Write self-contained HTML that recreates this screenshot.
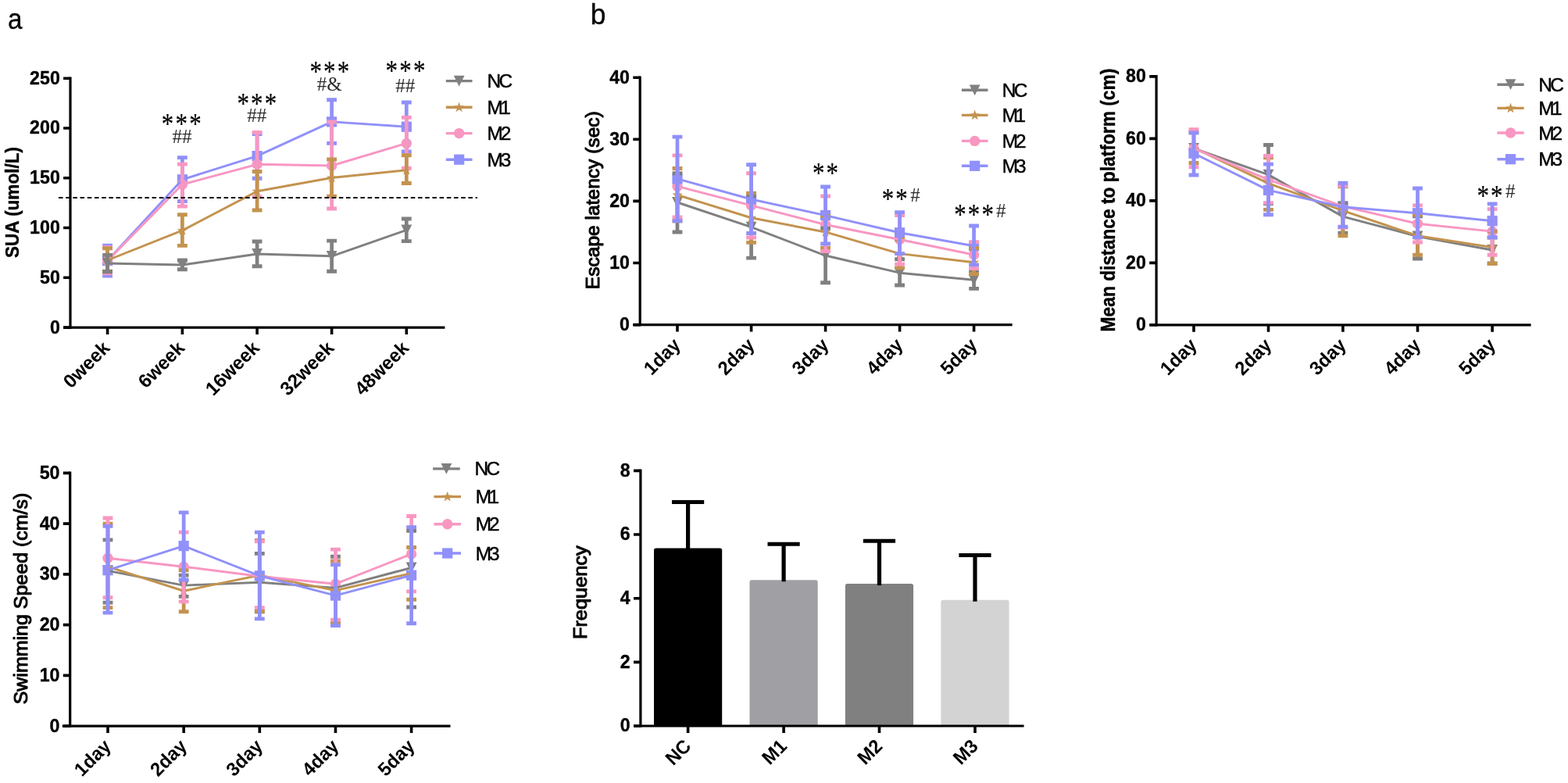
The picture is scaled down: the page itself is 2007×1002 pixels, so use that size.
<!DOCTYPE html>
<html lang="en"><head><meta charset="utf-8"><title>Figure</title>
<style>
html,body{margin:0;padding:0;background:#fff;}
body{width:2007px;height:1002px;overflow:hidden;}
svg{display:block;}
text{white-space:pre;}
.sans{font-family:"Liberation Sans",sans-serif;}
.serif{font-family:"Liberation Serif",serif;}
</style></head><body>
<svg width="2007" height="1002" viewBox="0 0 2007 1002">
<rect width="2007" height="1002" fill="#fff"/>
<g class="sans" font-size="36.2" fill="#000" stroke="#000" stroke-width="0.3">
<text transform="translate(9.9,36.6) scale(0.92,1)">a</text>
<text transform="translate(755.8,31.1) scale(0.98,1)">b</text>
</g>
<g stroke="#000" stroke-width="3.2" fill="none">
<path d="M90.0 98.40V420.70"/>
<path d="M81.3 419.1H569.4"/>
<path d="M81.10 419.10H90.0M81.10 355.32H90.0M81.10 291.54H90.0M81.10 227.76H90.0M81.10 163.98H90.0M81.10 100.20H90.0M137.60 419.1V428.00M233.40 419.1V428.00M329.10 419.1V428.00M424.60 419.1V428.00M520.30 419.1V428.00" stroke-width="3.6"/>
</g>
<g class="sans" font-weight="700" fill="#000" stroke="#000" stroke-linejoin="round">
<text transform="translate(76.80,426.50) scale(0.935,1)" text-anchor="end" font-size="24.8" stroke-width="0.38">0</text>
<text transform="translate(76.80,362.72) scale(0.935,1)" text-anchor="end" font-size="24.8" stroke-width="0.38">50</text>
<text transform="translate(76.80,298.94) scale(0.935,1)" text-anchor="end" font-size="24.8" stroke-width="0.38">100</text>
<text transform="translate(76.80,235.16) scale(0.935,1)" text-anchor="end" font-size="24.8" stroke-width="0.38">150</text>
<text transform="translate(76.80,171.38) scale(0.935,1)" text-anchor="end" font-size="24.8" stroke-width="0.38">200</text>
<text transform="translate(76.80,107.60) scale(0.935,1)" text-anchor="end" font-size="24.8" stroke-width="0.38">250</text>
<text transform="translate(142.00,446.90) rotate(-45) scale(0.987,1)" text-anchor="end" font-size="24.4" stroke-width="0.0">0week</text>
<text transform="translate(237.80,446.90) rotate(-45) scale(0.987,1)" text-anchor="end" font-size="24.4" stroke-width="0.0">6week</text>
<text transform="translate(333.50,446.90) rotate(-45) scale(0.987,1)" text-anchor="end" font-size="24.4" stroke-width="0.0">16week</text>
<text transform="translate(429.00,446.90) rotate(-45) scale(0.987,1)" text-anchor="end" font-size="24.4" stroke-width="0.0">32week</text>
<text transform="translate(524.70,446.90) rotate(-45) scale(0.987,1)" text-anchor="end" font-size="24.4" stroke-width="0.0">48week</text>
<text transform="translate(24.00,259.00) rotate(-90) scale(0.925,1)" text-anchor="middle" font-size="24.4" stroke-width="0.45">SUA (umol/L)</text>
</g>
<g>
<rect x="131.00" y="327.00" width="13.2" height="13.2" fill="#9090FA"/>
<rect x="226.80" y="223.20" width="13.2" height="13.2" fill="#9090FA"/>
<rect x="322.50" y="193.00" width="13.2" height="13.2" fill="#9090FA"/>
<rect x="418.00" y="149.30" width="13.2" height="13.2" fill="#9090FA"/>
<rect x="513.70" y="155.60" width="13.2" height="13.2" fill="#9090FA"/>
<circle cx="137.60" cy="333.60" r="6.7" fill="#F897C2"/>
<circle cx="233.40" cy="236.00" r="6.7" fill="#F897C2"/>
<circle cx="329.10" cy="210.30" r="6.7" fill="#F897C2"/>
<circle cx="424.60" cy="212.00" r="6.7" fill="#F897C2"/>
<circle cx="520.30" cy="183.40" r="6.7" fill="#F897C2"/>
<polygon points="137.60,326.20 139.25,330.93 144.26,331.04 140.26,334.07 141.71,338.86 137.60,336.00 133.49,338.86 134.94,334.07 130.94,331.04 135.95,330.93" fill="#C3934F"/>
<polygon points="233.40,288.10 235.05,292.83 240.06,292.94 236.06,295.97 237.51,300.76 233.40,297.90 229.29,300.76 230.74,295.97 226.74,292.94 231.75,292.83" fill="#C3934F"/>
<polygon points="329.10,238.00 330.75,242.73 335.76,242.84 331.76,245.87 333.21,250.66 329.10,247.80 324.99,250.66 326.44,245.87 322.44,242.84 327.45,242.73" fill="#C3934F"/>
<polygon points="424.60,220.70 426.25,225.43 431.26,225.54 427.26,228.57 428.71,233.36 424.60,230.50 420.49,233.36 421.94,228.57 417.94,225.54 422.95,225.43" fill="#C3934F"/>
<polygon points="520.30,211.00 521.95,215.73 526.96,215.84 522.96,218.87 524.41,223.66 520.30,220.80 516.19,223.66 517.64,218.87 513.64,215.84 518.65,215.73" fill="#C3934F"/>
<path d="M130.70 330.10H144.50L137.60 343.90Z" fill="#808080"/>
<path d="M226.50 332.10H240.30L233.40 345.90Z" fill="#808080"/>
<path d="M322.20 318.10H336.00L329.10 331.90Z" fill="#808080"/>
<path d="M417.70 320.90H431.50L424.60 334.70Z" fill="#808080"/>
<path d="M513.40 287.50H527.20L520.30 301.30Z" fill="#808080"/>
<polyline points="137.60,333.60 233.40,229.80 329.10,199.60 424.60,155.90 520.30,162.20" stroke="#9090FA" stroke-width="2.95" fill="none" stroke-linejoin="round"/>
<path d="M137.60 314.20V353.00M233.40 201.60V257.60M329.10 171.60V228.30M424.60 127.70V183.40M520.30 131.00V194.00" stroke="#9090FA" stroke-width="4.7" fill="none"/>
<path d="M131.20 314.20h12.8M131.20 353.00h12.8M227.00 201.60h12.8M227.00 257.60h12.8M322.70 171.60h12.8M322.70 228.30h12.8M418.20 127.70h12.8M418.20 183.40h12.8M513.90 131.00h12.8M513.90 194.00h12.8" stroke="#9090FA" stroke-width="4.9" fill="none"/>
<polyline points="137.60,333.60 233.40,236.00 329.10,210.30 424.60,212.00 520.30,183.40" stroke="#F897C2" stroke-width="2.95" fill="none" stroke-linejoin="round"/>
<path d="M137.60 316.40V349.80M233.40 210.10V264.10M329.10 169.50V252.00M424.60 156.00V267.00M520.30 150.40V215.30" stroke="#F897C2" stroke-width="4.7" fill="none"/>
<path d="M131.20 316.40h12.8M131.20 349.80h12.8M227.00 210.10h12.8M227.00 264.10h12.8M322.70 169.50h12.8M322.70 252.00h12.8M418.20 156.00h12.8M418.20 267.00h12.8M513.90 150.40h12.8M513.90 215.30h12.8" stroke="#F897C2" stroke-width="4.9" fill="none"/>
<polyline points="137.60,333.00 233.40,294.90 329.10,244.80 424.60,227.50 520.30,217.80" stroke="#C3934F" stroke-width="2.95" fill="none" stroke-linejoin="round"/>
<path d="M137.60 317.70V347.20M233.40 274.70V314.40M329.10 219.50V269.00M424.60 204.00V251.20M520.30 198.80V234.50" stroke="#C3934F" stroke-width="4.7" fill="none"/>
<path d="M131.20 317.70h12.8M131.20 347.20h12.8M227.00 274.70h12.8M227.00 314.40h12.8M322.70 219.50h12.8M322.70 269.00h12.8M418.20 204.00h12.8M418.20 251.20h12.8M513.90 198.80h12.8M513.90 234.50h12.8" stroke="#C3934F" stroke-width="4.9" fill="none"/>
<polyline points="137.60,337.00 233.40,339.00 329.10,325.00 424.60,327.80 520.30,294.40" stroke="#808080" stroke-width="2.95" fill="none" stroke-linejoin="round"/>
<path d="M137.60 326.40V347.70M233.40 333.00V344.80M329.10 309.00V340.80M424.60 308.10V347.30M520.30 280.00V308.60" stroke="#808080" stroke-width="4.7" fill="none"/>
<path d="M131.20 326.40h12.8M131.20 347.70h12.8M227.00 333.00h12.8M227.00 344.80h12.8M322.70 309.00h12.8M322.70 340.80h12.8M418.20 308.10h12.8M418.20 347.30h12.8M513.90 280.00h12.8M513.90 308.60h12.8" stroke="#808080" stroke-width="4.9" fill="none"/>
</g>
<path d="M75 253H611" stroke="#000" stroke-width="2.0" stroke-dasharray="5.5 3.7" fill="none"/>
<path d="M570.80 103.6H604.50" stroke="#808080" stroke-width="3.4"/>
<path d="M580.75 96.70H594.55L587.65 110.50Z" fill="#808080"/>
<text transform="translate(623.60,111.90) scale(1.0,1)" class="sans" font-size="24.4" letter-spacing="-2.6" fill="#000" stroke="#000" stroke-width="0.45">NC</text>
<path d="M570.80 137.3H604.50" stroke="#C3934F" stroke-width="3.4"/>
<polygon points="587.65,130.50 589.30,135.23 594.31,135.34 590.31,138.37 591.76,143.16 587.65,140.30 583.54,143.16 584.99,138.37 580.99,135.34 586.00,135.23" fill="#C3934F"/>
<text transform="translate(623.60,145.70) scale(1.0,1)" class="sans" font-size="24.4" letter-spacing="-3.6" fill="#000" stroke="#000" stroke-width="0.45">M1</text>
<path d="M570.80 170.6H604.50" stroke="#F897C2" stroke-width="3.4"/>
<circle cx="587.65" cy="170.60" r="6.7" fill="#F897C2"/>
<text transform="translate(623.60,179.40) scale(1.0,1)" class="sans" font-size="24.4" letter-spacing="-3.2" fill="#000" stroke="#000" stroke-width="0.45">M2</text>
<path d="M570.80 204.2H604.50" stroke="#9090FA" stroke-width="3.4"/>
<rect x="581.05" y="197.60" width="13.2" height="13.2" fill="#9090FA"/>
<text transform="translate(623.60,212.70) scale(1.0,1)" class="sans" font-size="24.4" letter-spacing="-3.2" fill="#000" stroke="#000" stroke-width="0.45">M3</text>
<text transform="translate(206.83,170.90) scale(1,1.21)" class="serif" font-size="31.0" letter-spacing="2.2" fill="#000" stroke="#000" stroke-width="0.15">***</text>
<text x="233" y="183.4" text-anchor="middle" class="serif" font-size="25" letter-spacing="0" fill="#2a2a2a">##</text>
<text transform="translate(303.43,145.20) scale(1,1.21)" class="serif" font-size="31.0" letter-spacing="2.2" fill="#000" stroke="#000" stroke-width="0.15">***</text>
<text x="328.8" y="156.4" text-anchor="middle" class="serif" font-size="25" letter-spacing="0" fill="#2a2a2a">##</text>
<text transform="translate(396.43,104.20) scale(1,1.21)" class="serif" font-size="31.0" letter-spacing="2.2" fill="#000" stroke="#000" stroke-width="0.15">***</text>
<text x="421.7" y="116.0" text-anchor="middle" class="serif" font-size="25" letter-spacing="0" fill="#2a2a2a">#&amp;</text>
<text transform="translate(493.53,102.60) scale(1,1.21)" class="serif" font-size="31.0" letter-spacing="2.2" fill="#000" stroke="#000" stroke-width="0.15">***</text>
<text x="518.8" y="117.6" text-anchor="middle" class="serif" font-size="25" letter-spacing="0" fill="#2a2a2a">##</text>
<g stroke="#000" stroke-width="3.2" fill="none">
<path d="M819.2 97.40V417.20"/>
<path d="M810.6 415.6H1295.7"/>
<path d="M810.30 415.60H819.2M810.30 336.50H819.2M810.30 257.40H819.2M810.30 178.30H819.2M810.30 99.20H819.2M867.00 415.6V424.50M961.60 415.6V424.50M1056.60 415.6V424.50M1151.60 415.6V424.50M1246.60 415.6V424.50" stroke-width="3.6"/>
</g>
<g class="sans" font-weight="700" fill="#000" stroke="#000" stroke-linejoin="round">
<text transform="translate(806.00,423.00) scale(0.935,1)" text-anchor="end" font-size="24.8" stroke-width="0.38">0</text>
<text transform="translate(806.00,343.90) scale(0.935,1)" text-anchor="end" font-size="24.8" stroke-width="0.38">10</text>
<text transform="translate(806.00,264.80) scale(0.935,1)" text-anchor="end" font-size="24.8" stroke-width="0.38">20</text>
<text transform="translate(806.00,185.70) scale(0.935,1)" text-anchor="end" font-size="24.8" stroke-width="0.38">30</text>
<text transform="translate(806.00,106.60) scale(0.935,1)" text-anchor="end" font-size="24.8" stroke-width="0.38">40</text>
<text transform="translate(872.40,442.90) rotate(-45) scale(0.975,1)" text-anchor="end" font-size="24.4" stroke-width="0.0">1day</text>
<text transform="translate(967.00,442.90) rotate(-45) scale(0.975,1)" text-anchor="end" font-size="24.4" stroke-width="0.0">2day</text>
<text transform="translate(1062.00,442.90) rotate(-45) scale(0.975,1)" text-anchor="end" font-size="24.4" stroke-width="0.0">3day</text>
<text transform="translate(1157.00,442.90) rotate(-45) scale(0.975,1)" text-anchor="end" font-size="24.4" stroke-width="0.0">4day</text>
<text transform="translate(1252.00,442.90) rotate(-45) scale(0.975,1)" text-anchor="end" font-size="24.4" stroke-width="0.0">5day</text>
<text transform="translate(766.60,256.20) rotate(-90) scale(1.007,1)" text-anchor="middle" font-size="24.4" stroke-width="1.05" font-weight="400">Escape latency (sec)</text>
</g>
<g>
<path d="M860.10 252.08H873.90L867.00 265.88Z" fill="#808080"/>
<path d="M954.70 283.72H968.50L961.60 297.52Z" fill="#808080"/>
<path d="M1049.70 320.11H1063.50L1056.60 333.91Z" fill="#808080"/>
<path d="M1144.70 342.26H1158.50L1151.60 356.06Z" fill="#808080"/>
<path d="M1239.70 351.35H1253.50L1246.60 365.15Z" fill="#808080"/>
<polygon points="867.00,242.69 868.65,247.42 873.66,247.53 869.66,250.56 871.11,255.35 867.00,252.49 862.89,255.35 864.34,250.56 860.34,247.53 865.35,247.42" fill="#C3934F"/>
<polygon points="961.60,271.96 963.25,276.69 968.26,276.79 964.26,279.82 965.71,284.62 961.60,281.76 957.49,284.62 958.94,279.82 954.94,276.79 959.95,276.69" fill="#C3934F"/>
<polygon points="1056.60,290.15 1058.25,294.88 1063.26,294.99 1059.26,298.02 1060.71,302.81 1056.60,299.95 1052.49,302.81 1053.94,298.02 1049.94,294.99 1054.95,294.88" fill="#C3934F"/>
<polygon points="1151.60,317.83 1153.25,322.57 1158.26,322.67 1154.26,325.70 1155.71,330.50 1151.60,327.63 1147.49,330.50 1148.94,325.70 1144.94,322.67 1149.95,322.57" fill="#C3934F"/>
<polygon points="1246.60,328.91 1248.25,333.64 1253.26,333.75 1249.26,336.77 1250.71,341.57 1246.60,338.71 1242.49,341.57 1243.94,336.77 1239.94,333.75 1244.95,333.64" fill="#C3934F"/>
<circle cx="867.00" cy="238.42" r="6.7" fill="#F897C2"/>
<circle cx="961.60" cy="262.94" r="6.7" fill="#F897C2"/>
<circle cx="1056.60" cy="287.46" r="6.7" fill="#F897C2"/>
<circle cx="1151.60" cy="306.44" r="6.7" fill="#F897C2"/>
<circle cx="1246.60" cy="325.98" r="6.7" fill="#F897C2"/>
<rect x="860.40" y="222.32" width="13.2" height="13.2" fill="#9090FA"/>
<rect x="955.00" y="248.43" width="13.2" height="13.2" fill="#9090FA"/>
<rect x="1050.00" y="268.99" width="13.2" height="13.2" fill="#9090FA"/>
<rect x="1145.00" y="291.14" width="13.2" height="13.2" fill="#9090FA"/>
<rect x="1240.00" y="308.15" width="13.2" height="13.2" fill="#9090FA"/>
<polyline points="867.00,258.98 961.60,290.62 1056.60,327.01 1151.60,349.16 1246.60,358.25" stroke="#808080" stroke-width="2.95" fill="none" stroke-linejoin="round"/>
<path d="M867.00 221.81V296.95M961.60 251.07V330.17M1056.60 292.20V361.81M1151.60 331.75V364.98M1246.60 347.57V369.33" stroke="#808080" stroke-width="4.7" fill="none"/>
<path d="M860.60 221.81h12.8M860.60 296.95h12.8M955.20 251.07h12.8M955.20 330.17h12.8M1050.20 292.20h12.8M1050.20 361.81h12.8M1145.20 331.75h12.8M1145.20 364.98h12.8M1240.20 347.57h12.8M1240.20 369.33h12.8" stroke="#808080" stroke-width="4.9" fill="none"/>
<polyline points="867.00,249.49 961.60,278.76 1056.60,296.95 1151.60,324.63 1246.60,335.71" stroke="#C3934F" stroke-width="2.95" fill="none" stroke-linejoin="round"/>
<path d="M867.00 215.48V282.71M961.60 247.12V310.40M1056.60 276.38V317.52M1151.60 306.44V342.83M1246.60 317.52V350.74" stroke="#C3934F" stroke-width="4.7" fill="none"/>
<path d="M860.60 215.48h12.8M860.60 282.71h12.8M955.20 247.12h12.8M955.20 310.40h12.8M1050.20 276.38h12.8M1050.20 317.52h12.8M1145.20 306.44h12.8M1145.20 342.83h12.8M1240.20 317.52h12.8M1240.20 350.74h12.8" stroke="#C3934F" stroke-width="4.9" fill="none"/>
<polyline points="867.00,238.42 961.60,262.94 1056.60,287.46 1151.60,306.44 1246.60,325.98" stroke="#F897C2" stroke-width="2.95" fill="none" stroke-linejoin="round"/>
<path d="M867.00 198.87V277.97M961.60 221.81V304.07M1056.60 251.07V321.47M1151.60 275.59V338.08M1246.60 309.61V343.62" stroke="#F897C2" stroke-width="4.7" fill="none"/>
<path d="M860.60 198.87h12.8M860.60 277.97h12.8M955.20 221.81h12.8M955.20 304.07h12.8M1050.20 251.07h12.8M1050.20 321.47h12.8M1145.20 275.59h12.8M1145.20 338.08h12.8M1240.20 309.61h12.8M1240.20 343.62h12.8" stroke="#F897C2" stroke-width="4.9" fill="none"/>
<polyline points="867.00,228.92 961.60,255.03 1056.60,275.59 1151.60,297.74 1246.60,314.75" stroke="#9090FA" stroke-width="2.95" fill="none" stroke-linejoin="round"/>
<path d="M867.00 175.14V282.71M961.60 210.73V298.53M1056.60 238.97V311.98M1151.60 271.64V324.63M1246.60 289.04V338.87" stroke="#9090FA" stroke-width="4.7" fill="none"/>
<path d="M860.60 175.14h12.8M860.60 282.71h12.8M955.20 210.73h12.8M955.20 298.53h12.8M1050.20 238.97h12.8M1050.20 311.98h12.8M1145.20 271.64h12.8M1145.20 324.63h12.8M1240.20 289.04h12.8M1240.20 338.87h12.8" stroke="#9090FA" stroke-width="4.9" fill="none"/>
</g>
<path d="M1230.90 115.3H1264.50" stroke="#808080" stroke-width="3.4"/>
<path d="M1240.80 108.40H1254.60L1247.70 122.20Z" fill="#808080"/>
<text transform="translate(1282.80,123.80) scale(1.0,1)" class="sans" font-size="24.4" letter-spacing="-2.6" fill="#000" stroke="#000" stroke-width="0.45">NC</text>
<path d="M1230.90 147.4H1264.50" stroke="#C3934F" stroke-width="3.4"/>
<polygon points="1247.70,140.60 1249.35,145.33 1254.36,145.44 1250.36,148.47 1251.81,153.26 1247.70,150.40 1243.59,153.26 1245.04,148.47 1241.04,145.44 1246.05,145.33" fill="#C3934F"/>
<text transform="translate(1282.80,155.90) scale(1.0,1)" class="sans" font-size="24.4" letter-spacing="-3.6" fill="#000" stroke="#000" stroke-width="0.45">M1</text>
<path d="M1230.90 180.4H1264.50" stroke="#F897C2" stroke-width="3.4"/>
<circle cx="1247.70" cy="180.40" r="6.7" fill="#F897C2"/>
<text transform="translate(1282.80,188.90) scale(1.0,1)" class="sans" font-size="24.4" letter-spacing="-3.2" fill="#000" stroke="#000" stroke-width="0.45">M2</text>
<path d="M1230.90 212.3H1264.50" stroke="#9090FA" stroke-width="3.4"/>
<rect x="1241.10" y="205.70" width="13.2" height="13.2" fill="#9090FA"/>
<text transform="translate(1282.80,220.80) scale(1.0,1)" class="sans" font-size="24.4" letter-spacing="-3.2" fill="#000" stroke="#000" stroke-width="0.45">M3</text>
<text transform="translate(1039.88,234.20) scale(1,1.21)" class="serif" font-size="31.0" letter-spacing="2.2" fill="#000" stroke="#000" stroke-width="0.15">**</text>
<text transform="translate(1128.68,267.20) scale(1,1.21)" class="serif" font-size="31.0" letter-spacing="2.2" fill="#000" stroke="#000" stroke-width="0.15">**</text>
<text x="1165.3" y="257.5" text-anchor="start" class="serif" font-size="25" letter-spacing="0" fill="#2a2a2a">#</text>
<text transform="translate(1221.13,287.20) scale(1,1.21)" class="serif" font-size="31.0" letter-spacing="2.2" fill="#000" stroke="#000" stroke-width="0.15">***</text>
<text x="1275" y="278" text-anchor="start" class="serif" font-size="25" letter-spacing="0" fill="#2a2a2a">#</text>
<g stroke="#000" stroke-width="3.2" fill="none">
<path d="M1480.1 96.12V417.40"/>
<path d="M1471.6 415.8H1959.6"/>
<path d="M1471.20 415.80H1480.1M1471.20 336.33H1480.1M1471.20 256.86H1480.1M1471.20 177.39H1480.1M1471.20 97.92H1480.1M1528.00 415.8V424.70M1623.50 415.8V424.70M1718.90 415.8V424.70M1814.50 415.8V424.70M1910.10 415.8V424.70" stroke-width="3.6"/>
</g>
<g class="sans" font-weight="700" fill="#000" stroke="#000" stroke-linejoin="round">
<text transform="translate(1466.90,423.20) scale(0.935,1)" text-anchor="end" font-size="24.8" stroke-width="0.38">0</text>
<text transform="translate(1466.90,343.73) scale(0.935,1)" text-anchor="end" font-size="24.8" stroke-width="0.38">20</text>
<text transform="translate(1466.90,264.26) scale(0.935,1)" text-anchor="end" font-size="24.8" stroke-width="0.38">40</text>
<text transform="translate(1466.90,184.79) scale(0.935,1)" text-anchor="end" font-size="24.8" stroke-width="0.38">60</text>
<text transform="translate(1466.90,105.32) scale(0.935,1)" text-anchor="end" font-size="24.8" stroke-width="0.38">80</text>
<text transform="translate(1533.40,443.10) rotate(-45) scale(0.975,1)" text-anchor="end" font-size="24.4" stroke-width="0.0">1day</text>
<text transform="translate(1628.90,443.10) rotate(-45) scale(0.975,1)" text-anchor="end" font-size="24.4" stroke-width="0.0">2day</text>
<text transform="translate(1724.30,443.10) rotate(-45) scale(0.975,1)" text-anchor="end" font-size="24.4" stroke-width="0.0">3day</text>
<text transform="translate(1819.90,443.10) rotate(-45) scale(0.975,1)" text-anchor="end" font-size="24.4" stroke-width="0.0">4day</text>
<text transform="translate(1915.50,443.10) rotate(-45) scale(0.975,1)" text-anchor="end" font-size="24.4" stroke-width="0.0">5day</text>
<text transform="translate(1426.80,256.00) rotate(-90) scale(0.887,1)" text-anchor="middle" font-size="25.7" stroke-width="0.45">Mean distance to platform (cm)</text>
</g>
<g>
<path d="M1521.10 182.99H1534.90L1528.00 196.79Z" fill="#808080"/>
<path d="M1616.60 216.69H1630.40L1623.50 230.49Z" fill="#808080"/>
<path d="M1712.00 270.22H1725.80L1718.90 284.02Z" fill="#808080"/>
<path d="M1807.60 295.59H1821.40L1814.50 309.39Z" fill="#808080"/>
<path d="M1903.20 313.04H1917.00L1910.10 326.84Z" fill="#808080"/>
<polygon points="1528.00,182.30 1529.65,187.03 1534.66,187.13 1530.66,190.16 1532.11,194.96 1528.00,192.10 1523.89,194.96 1525.34,190.16 1521.34,187.13 1526.35,187.03" fill="#C3934F"/>
<polygon points="1623.50,227.89 1625.15,232.63 1630.16,232.73 1626.16,235.76 1627.61,240.56 1623.50,237.69 1619.39,240.56 1620.84,235.76 1616.84,232.73 1621.85,232.63" fill="#C3934F"/>
<polygon points="1718.90,262.78 1720.55,267.52 1725.56,267.62 1721.56,270.65 1723.01,275.45 1718.90,272.58 1714.79,275.45 1716.24,270.65 1712.24,267.62 1717.25,267.52" fill="#C3934F"/>
<polygon points="1814.50,294.90 1816.15,299.64 1821.16,299.74 1817.16,302.77 1818.61,307.56 1814.50,304.70 1810.39,307.56 1811.84,302.77 1807.84,299.74 1812.85,299.64" fill="#C3934F"/>
<polygon points="1910.10,309.57 1911.75,314.31 1916.76,314.41 1912.76,317.44 1914.21,322.23 1910.10,319.37 1905.99,322.23 1907.44,317.44 1903.44,314.41 1908.45,314.31" fill="#C3934F"/>
<circle cx="1528.00" cy="189.89" r="6.7" fill="#F897C2"/>
<circle cx="1623.50" cy="229.93" r="6.7" fill="#F897C2"/>
<circle cx="1718.90" cy="264.03" r="6.7" fill="#F897C2"/>
<circle cx="1814.50" cy="286.24" r="6.7" fill="#F897C2"/>
<circle cx="1910.10" cy="296.15" r="6.7" fill="#F897C2"/>
<rect x="1521.40" y="189.63" width="13.2" height="13.2" fill="#9090FA"/>
<rect x="1616.90" y="236.82" width="13.2" height="13.2" fill="#9090FA"/>
<rect x="1712.30" y="258.23" width="13.2" height="13.2" fill="#9090FA"/>
<rect x="1807.90" y="266.16" width="13.2" height="13.2" fill="#9090FA"/>
<rect x="1903.50" y="276.07" width="13.2" height="13.2" fill="#9090FA"/>
<polyline points="1528.00,189.89 1623.50,223.59 1718.90,277.12 1814.50,302.49 1910.10,319.94" stroke="#808080" stroke-width="2.95" fill="none" stroke-linejoin="round"/>
<path d="M1623.50 185.53V260.47M1718.90 259.67V298.13M1814.50 276.33V331.04M1910.10 304.08V336.99" stroke="#808080" stroke-width="4.7" fill="none"/>
<path d="M1617.10 185.53h12.8M1617.10 260.47h12.8M1712.50 259.67h12.8M1712.50 298.13h12.8M1808.10 276.33h12.8M1808.10 331.04h12.8M1903.70 304.08h12.8M1903.70 336.99h12.8" stroke="#808080" stroke-width="4.9" fill="none"/>
<polyline points="1528.00,189.10 1623.50,234.69 1718.90,269.58 1814.50,301.70 1910.10,316.37" stroke="#C3934F" stroke-width="2.95" fill="none" stroke-linejoin="round"/>
<path d="M1528.00 169.27V208.52M1623.50 201.78V268.40M1718.90 238.86V301.90M1814.50 275.14V326.28M1910.10 296.15V337.39" stroke="#C3934F" stroke-width="4.7" fill="none"/>
<path d="M1521.60 169.27h12.8M1521.60 208.52h12.8M1617.10 201.78h12.8M1617.10 268.40h12.8M1712.50 238.86h12.8M1712.50 301.90h12.8M1808.10 275.14h12.8M1808.10 326.28h12.8M1903.70 296.15h12.8M1903.70 337.39h12.8" stroke="#C3934F" stroke-width="4.9" fill="none"/>
<polyline points="1528.00,189.89 1623.50,229.93 1718.90,264.03 1814.50,286.24 1910.10,296.15" stroke="#F897C2" stroke-width="2.95" fill="none" stroke-linejoin="round"/>
<path d="M1528.00 165.70V213.68M1623.50 199.40V259.67M1718.90 237.47V291.00M1814.50 262.84V310.03M1910.10 267.60V326.28" stroke="#F897C2" stroke-width="4.7" fill="none"/>
<path d="M1521.60 165.70h12.8M1521.60 213.68h12.8M1617.10 199.40h12.8M1617.10 259.67h12.8M1712.50 237.47h12.8M1712.50 291.00h12.8M1808.10 262.84h12.8M1808.10 310.03h12.8M1903.70 267.60h12.8M1903.70 326.28h12.8" stroke="#F897C2" stroke-width="4.9" fill="none"/>
<polyline points="1528.00,196.23 1623.50,243.42 1718.90,264.83 1814.50,272.76 1910.10,282.67" stroke="#9090FA" stroke-width="2.95" fill="none" stroke-linejoin="round"/>
<path d="M1528.00 170.06V223.99M1623.50 210.11V274.74M1718.90 234.30V290.20M1814.50 241.04V303.68M1910.10 260.86V303.68" stroke="#9090FA" stroke-width="4.7" fill="none"/>
<path d="M1521.60 170.06h12.8M1521.60 223.99h12.8M1617.10 210.11h12.8M1617.10 274.74h12.8M1712.50 234.30h12.8M1712.50 290.20h12.8M1808.10 241.04h12.8M1808.10 303.68h12.8M1903.70 260.86h12.8M1903.70 303.68h12.8" stroke="#9090FA" stroke-width="4.9" fill="none"/>
</g>
<path d="M1916.40 108.2H1950.60" stroke="#808080" stroke-width="3.4"/>
<path d="M1926.60 101.30H1940.40L1933.50 115.10Z" fill="#808080"/>
<text transform="translate(1969.30,116.70) scale(1.0,1)" class="sans" font-size="24.4" letter-spacing="-2.6" fill="#000" stroke="#000" stroke-width="0.45">NC</text>
<path d="M1916.40 138.4H1950.60" stroke="#C3934F" stroke-width="3.4"/>
<polygon points="1933.50,131.60 1935.15,136.33 1940.16,136.44 1936.16,139.47 1937.61,144.26 1933.50,141.40 1929.39,144.26 1930.84,139.47 1926.84,136.44 1931.85,136.33" fill="#C3934F"/>
<text transform="translate(1969.30,146.90) scale(1.0,1)" class="sans" font-size="24.4" letter-spacing="-3.6" fill="#000" stroke="#000" stroke-width="0.45">M1</text>
<path d="M1916.40 170.0H1950.60" stroke="#F897C2" stroke-width="3.4"/>
<circle cx="1933.50" cy="170.00" r="6.7" fill="#F897C2"/>
<text transform="translate(1969.30,178.50) scale(1.0,1)" class="sans" font-size="24.4" letter-spacing="-3.2" fill="#000" stroke="#000" stroke-width="0.45">M2</text>
<path d="M1916.40 203.7H1950.60" stroke="#9090FA" stroke-width="3.4"/>
<rect x="1926.90" y="197.10" width="13.2" height="13.2" fill="#9090FA"/>
<text transform="translate(1969.30,212.20) scale(1.0,1)" class="sans" font-size="24.4" letter-spacing="-3.2" fill="#000" stroke="#000" stroke-width="0.45">M3</text>
<text transform="translate(1890.38,262.80) scale(1,1.21)" class="serif" font-size="31.0" letter-spacing="2.2" fill="#000" stroke="#000" stroke-width="0.15">**</text>
<text x="1927" y="253" text-anchor="start" class="serif" font-size="25" letter-spacing="0" fill="#2a2a2a">#</text>
<g stroke="#000" stroke-width="3.2" fill="none">
<path d="M89.7 603.60V930.70"/>
<path d="M79.8 929.1H576.5"/>
<path d="M80.80 929.10H89.7M80.80 864.36H89.7M80.80 799.62H89.7M80.80 734.88H89.7M80.80 670.14H89.7M80.80 605.40H89.7M138.00 929.1V938.00M235.15 929.1V938.00M332.30 929.1V938.00M429.45 929.1V938.00M526.60 929.1V938.00" stroke-width="3.6"/>
</g>
<g class="sans" font-weight="700" fill="#000" stroke="#000" stroke-linejoin="round">
<text transform="translate(76.50,936.50) scale(0.935,1)" text-anchor="end" font-size="24.8" stroke-width="0.38">0</text>
<text transform="translate(76.50,871.76) scale(0.935,1)" text-anchor="end" font-size="24.8" stroke-width="0.38">10</text>
<text transform="translate(76.50,807.02) scale(0.935,1)" text-anchor="end" font-size="24.8" stroke-width="0.38">20</text>
<text transform="translate(76.50,742.28) scale(0.935,1)" text-anchor="end" font-size="24.8" stroke-width="0.38">30</text>
<text transform="translate(76.50,677.54) scale(0.935,1)" text-anchor="end" font-size="24.8" stroke-width="0.38">40</text>
<text transform="translate(76.50,612.80) scale(0.935,1)" text-anchor="end" font-size="24.8" stroke-width="0.38">50</text>
<text transform="translate(143.40,956.40) rotate(-45) scale(0.975,1)" text-anchor="end" font-size="24.4" stroke-width="0.0">1day</text>
<text transform="translate(240.55,956.40) rotate(-45) scale(0.975,1)" text-anchor="end" font-size="24.4" stroke-width="0.0">2day</text>
<text transform="translate(337.70,956.40) rotate(-45) scale(0.975,1)" text-anchor="end" font-size="24.4" stroke-width="0.0">3day</text>
<text transform="translate(434.85,956.40) rotate(-45) scale(0.975,1)" text-anchor="end" font-size="24.4" stroke-width="0.0">4day</text>
<text transform="translate(532.00,956.40) rotate(-45) scale(0.975,1)" text-anchor="end" font-size="24.4" stroke-width="0.0">5day</text>
<text transform="translate(35.20,766.00) rotate(-90) scale(1.024,1)" text-anchor="middle" font-size="24.4" stroke-width="1.05" font-weight="400">Swimming Speed (cm/s)</text>
</g>
<g>
<path d="M131.10 723.45H144.90L138.00 737.25Z" fill="#808080"/>
<path d="M228.25 742.22H242.05L235.15 756.02Z" fill="#808080"/>
<path d="M325.40 738.34H339.20L332.30 752.14Z" fill="#808080"/>
<path d="M422.55 745.46H436.35L429.45 759.26Z" fill="#808080"/>
<path d="M519.70 719.56H533.50L526.60 733.36Z" fill="#808080"/>
<polygon points="138.00,718.37 139.65,723.10 144.66,723.21 140.66,726.23 142.11,731.03 138.00,728.17 133.89,731.03 135.34,726.23 131.34,723.21 136.35,723.10" fill="#C3934F"/>
<polygon points="235.15,749.44 236.80,754.18 241.81,754.28 237.81,757.31 239.26,762.11 235.15,759.24 231.04,762.11 232.49,757.31 228.49,754.28 233.50,754.18" fill="#C3934F"/>
<polygon points="332.30,729.37 333.95,734.11 338.96,734.21 334.96,737.24 336.41,742.04 332.30,739.17 328.19,742.04 329.64,737.24 325.64,734.21 330.65,734.11" fill="#C3934F"/>
<polygon points="429.45,748.80 431.10,753.53 436.11,753.63 432.11,756.66 433.56,761.46 429.45,758.60 425.34,761.46 426.79,756.66 422.79,753.63 427.80,753.53" fill="#C3934F"/>
<polygon points="526.60,726.79 528.25,731.52 533.26,731.62 529.26,734.65 530.71,739.45 526.60,736.59 522.49,739.45 523.94,734.65 519.94,731.62 524.95,731.52" fill="#C3934F"/>
<circle cx="138.00" cy="714.16" r="6.7" fill="#F897C2"/>
<circle cx="235.15" cy="725.17" r="6.7" fill="#F897C2"/>
<circle cx="332.30" cy="737.47" r="6.7" fill="#F897C2"/>
<circle cx="429.45" cy="747.18" r="6.7" fill="#F897C2"/>
<circle cx="526.60" cy="708.98" r="6.7" fill="#F897C2"/>
<rect x="131.40" y="723.10" width="13.2" height="13.2" fill="#9090FA"/>
<rect x="228.55" y="692.03" width="13.2" height="13.2" fill="#9090FA"/>
<rect x="325.70" y="730.22" width="13.2" height="13.2" fill="#9090FA"/>
<rect x="422.85" y="755.47" width="13.2" height="13.2" fill="#9090FA"/>
<rect x="520.00" y="729.57" width="13.2" height="13.2" fill="#9090FA"/>
<polyline points="138.00,730.35 235.15,749.12 332.30,745.24 429.45,752.36 526.60,726.46" stroke="#808080" stroke-width="2.95" fill="none" stroke-linejoin="round"/>
<path d="M138.00 690.86V771.13M235.15 736.17V763.37M332.30 708.34V782.79M429.45 712.22V797.68M526.60 679.20V776.96" stroke="#808080" stroke-width="4.7" fill="none"/>
<path d="M131.60 690.86h12.8M131.60 771.13h12.8M228.75 736.17h12.8M228.75 763.37h12.8M325.90 708.34h12.8M325.90 782.79h12.8M423.05 712.22h12.8M423.05 797.68h12.8M520.20 679.20h12.8M520.20 776.96h12.8" stroke="#808080" stroke-width="4.9" fill="none"/>
<polyline points="138.00,725.17 235.15,756.24 332.30,736.17 429.45,755.60 526.60,733.59" stroke="#C3934F" stroke-width="2.95" fill="none" stroke-linejoin="round"/>
<path d="M138.00 670.14V777.61M235.15 729.70V782.79M332.30 691.50V782.14M429.45 718.05V796.38M526.60 700.57V767.25" stroke="#C3934F" stroke-width="4.7" fill="none"/>
<path d="M131.60 670.14h12.8M131.60 777.61h12.8M228.75 729.70h12.8M228.75 782.79h12.8M325.90 691.50h12.8M325.90 782.14h12.8M423.05 718.05h12.8M423.05 796.38h12.8M520.20 700.57h12.8M520.20 767.25h12.8" stroke="#C3934F" stroke-width="4.9" fill="none"/>
<polyline points="138.00,714.16 235.15,725.17 332.30,737.47 429.45,747.18 526.60,708.98" stroke="#F897C2" stroke-width="2.95" fill="none" stroke-linejoin="round"/>
<path d="M138.00 663.02V764.66M235.15 681.15V769.84M332.30 692.80V777.61M429.45 703.16V793.15M526.60 660.43V756.89" stroke="#F897C2" stroke-width="4.7" fill="none"/>
<path d="M131.60 663.02h12.8M131.60 764.66h12.8M228.75 681.15h12.8M228.75 769.84h12.8M325.90 692.80h12.8M325.90 777.61h12.8M423.05 703.16h12.8M423.05 793.15h12.8M520.20 660.43h12.8M520.20 756.89h12.8" stroke="#F897C2" stroke-width="4.9" fill="none"/>
<polyline points="138.00,729.70 235.15,698.63 332.30,736.82 429.45,762.07 526.60,736.17" stroke="#9090FA" stroke-width="2.95" fill="none" stroke-linejoin="round"/>
<path d="M138.00 673.38V784.08M235.15 655.90V742.00M332.30 681.15V791.85M429.45 722.58V800.59M526.60 674.67V797.68" stroke="#9090FA" stroke-width="4.7" fill="none"/>
<path d="M131.60 673.38h12.8M131.60 784.08h12.8M228.75 655.90h12.8M228.75 742.00h12.8M325.90 681.15h12.8M325.90 791.85h12.8M423.05 722.58h12.8M423.05 800.59h12.8M520.20 674.67h12.8M520.20 797.68h12.8" stroke="#9090FA" stroke-width="4.9" fill="none"/>
</g>
<path d="M554.10 599.9H588.70" stroke="#808080" stroke-width="3.4"/>
<path d="M564.50 593.00H578.30L571.40 606.80Z" fill="#808080"/>
<text transform="translate(607.50,608.40) scale(1.0,1)" class="sans" font-size="24.4" letter-spacing="-2.6" fill="#000" stroke="#000" stroke-width="0.45">NC</text>
<path d="M555.40 635.6H590.00" stroke="#C3934F" stroke-width="3.4"/>
<polygon points="572.70,628.80 574.35,633.53 579.36,633.64 575.36,636.67 576.81,641.46 572.70,638.60 568.59,641.46 570.04,636.67 566.04,633.64 571.05,633.53" fill="#C3934F"/>
<text transform="translate(608.80,644.10) scale(1.0,1)" class="sans" font-size="24.4" letter-spacing="-3.6" fill="#000" stroke="#000" stroke-width="0.45">M1</text>
<path d="M555.40 670.7H590.00" stroke="#F897C2" stroke-width="3.4"/>
<circle cx="572.70" cy="670.70" r="6.7" fill="#F897C2"/>
<text transform="translate(608.80,679.20) scale(1.0,1)" class="sans" font-size="24.4" letter-spacing="-3.2" fill="#000" stroke="#000" stroke-width="0.45">M2</text>
<path d="M555.40 708.0H590.00" stroke="#9090FA" stroke-width="3.4"/>
<rect x="566.10" y="701.40" width="13.2" height="13.2" fill="#9090FA"/>
<text transform="translate(608.80,716.50) scale(1.0,1)" class="sans" font-size="24.4" letter-spacing="-3.2" fill="#000" stroke="#000" stroke-width="0.45">M3</text>
<path d="M837.00 929.0V704.00q0 -2.6 2.6 -2.6H921.60q2.6 0 2.6 2.6V929.0Z" fill="#000000"/>
<path d="M880.60 703.40V642.41" stroke="#000" stroke-width="5.2" fill="none"/>
<path d="M860.00 642.41h41.2" stroke="#000" stroke-width="5.0" fill="none"/>
<path d="M959.50 929.0V744.80q0 -2.6 2.6 -2.6H1044.10q2.6 0 2.6 2.6V929.0Z" fill="#A09FA4"/>
<path d="M1003.10 744.20V696.30" stroke="#000" stroke-width="5.2" fill="none"/>
<path d="M982.50 696.30h41.2" stroke="#000" stroke-width="5.0" fill="none"/>
<path d="M1081.90 929.0V749.70q0 -2.6 2.6 -2.6H1166.50q2.6 0 2.6 2.6V929.0Z" fill="#808080"/>
<path d="M1125.50 749.10V692.22" stroke="#000" stroke-width="5.2" fill="none"/>
<path d="M1104.90 692.22h41.2" stroke="#000" stroke-width="5.0" fill="none"/>
<path d="M1204.40 929.0V770.30q0 -2.6 2.6 -2.6H1289.00q2.6 0 2.6 2.6V929.0Z" fill="#D3D3D3"/>
<path d="M1248.00 769.70V710.59" stroke="#000" stroke-width="5.2" fill="none"/>
<path d="M1227.40 710.59h41.2" stroke="#000" stroke-width="5.0" fill="none"/>
<g stroke="#000" stroke-width="3.2" fill="none">
<path d="M819.9 600.60V930.60"/>
<path d="M811 929.0H1310.6"/>
<path d="M811.00 929.00H819.9M811.00 847.35H819.9M811.00 765.70H819.9M811.00 684.05H819.9M811.00 602.40H819.9M880.60 929.0V937.90M1003.10 929.0V937.90M1125.50 929.0V937.90M1248.00 929.0V937.90" stroke-width="3.6"/>
</g>
<g class="sans" font-weight="700" fill="#000" stroke="#000" stroke-linejoin="round">
<text transform="translate(806.70,936.40) scale(0.935,1)" text-anchor="end" font-size="24.8" stroke-width="0.38">0</text>
<text transform="translate(806.70,854.75) scale(0.935,1)" text-anchor="end" font-size="24.8" stroke-width="0.38">2</text>
<text transform="translate(806.70,773.10) scale(0.935,1)" text-anchor="end" font-size="24.8" stroke-width="0.38">4</text>
<text transform="translate(806.70,691.45) scale(0.935,1)" text-anchor="end" font-size="24.8" stroke-width="0.38">6</text>
<text transform="translate(806.70,609.80) scale(0.935,1)" text-anchor="end" font-size="24.8" stroke-width="0.38">8</text>
<text transform="translate(886.00,956.30) rotate(-45) scale(0.975,1)" text-anchor="end" font-size="24.4" stroke-width="0.0">NC</text>
<text transform="translate(1008.50,956.30) rotate(-45) scale(0.975,1)" text-anchor="end" font-size="24.4" stroke-width="0.0">M1</text>
<text transform="translate(1130.90,956.30) rotate(-45) scale(0.975,1)" text-anchor="end" font-size="24.4" stroke-width="0.0">M2</text>
<text transform="translate(1253.40,956.30) rotate(-45) scale(0.975,1)" text-anchor="end" font-size="24.4" stroke-width="0.0">M3</text>
<text transform="translate(751.20,758.20) rotate(-90) scale(1.04,1)" text-anchor="middle" font-size="24.4" stroke-width="1.05" font-weight="400">Frequency</text>
</g>
</svg>
</body></html>
